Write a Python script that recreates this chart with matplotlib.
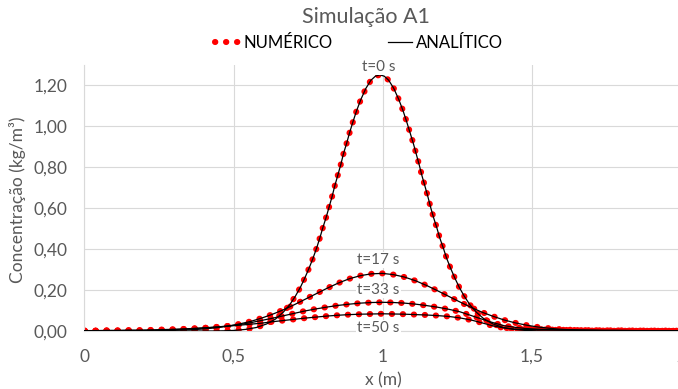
import matplotlib
matplotlib.use("Agg")
import matplotlib.pyplot as plt
from matplotlib.ticker import FuncFormatter, MultipleLocator

plt.rcParams["font.family"] = ["Lato", "DejaVu Sans"]

# grid used for t=17, 33 and 50 s
X = [0.000, 0.037, 0.074, 0.111, 0.148, 0.185, 0.222, 0.259, 0.296, 0.333,
     0.370, 0.407, 0.444, 0.481, 0.518, 0.555, 0.592, 0.629, 0.666, 0.703,
     0.740, 0.777, 0.814, 0.851, 0.888, 0.925, 0.962, 0.999, 1.036, 1.073,
     1.110, 1.147, 1.184, 1.221, 1.258, 1.295, 1.332, 1.369, 1.406, 1.443,
     1.480, 1.517, 1.554, 1.591, 1.628, 1.665, 1.702, 1.739, 1.776, 1.813,
     1.850, 1.887, 1.924, 1.961, 1.998]

T17_Y = [0.001, 0.001, 0.001, 0.001, 0.001, 0.001, 0.001, 0.002, 0.003, 0.005,
         0.007, 0.011, 0.016, 0.024, 0.034, 0.046, 0.062, 0.081, 0.103, 0.128,
         0.155, 0.182, 0.209, 0.234, 0.255, 0.270, 0.279, 0.281, 0.275, 0.263,
         0.245, 0.222, 0.196, 0.169, 0.142, 0.116, 0.092, 0.072, 0.054, 0.040,
         0.029, 0.020, 0.014, 0.009, 0.006, 0.004, 0.002, 0.002, 0.001, 0.001,
         0.001, 0.001, 0.001, 0.001, 0.001]

T33_Y = [0.001, 0.001, 0.002, 0.002, 0.003, 0.003, 0.004, 0.005, 0.007, 0.009,
         0.012, 0.015, 0.019, 0.024, 0.031, 0.040, 0.051, 0.062, 0.074, 0.086,
         0.098, 0.108, 0.117, 0.125, 0.131, 0.136, 0.139, 0.140, 0.139, 0.136,
         0.131, 0.124, 0.116, 0.106, 0.094, 0.076, 0.058, 0.041, 0.026, 0.018,
         0.012, 0.009, 0.007, 0.006, 0.005, 0.004, 0.004, 0.003, 0.003, 0.002,
         0.002, 0.002, 0.001, 0.001, 0.001]

T50_Y = [0.002, 0.002, 0.003, 0.003, 0.004, 0.004, 0.005, 0.007, 0.008, 0.010,
         0.013, 0.016, 0.020, 0.024, 0.028, 0.033, 0.038, 0.045, 0.051, 0.057,
         0.063, 0.068, 0.073, 0.077, 0.080, 0.082, 0.083, 0.084, 0.083, 0.082,
         0.080, 0.078, 0.075, 0.071, 0.064, 0.054, 0.040, 0.025, 0.015, 0.009,
         0.007, 0.007, 0.006, 0.005, 0.005, 0.004, 0.004, 0.003, 0.003, 0.003,
         0.002, 0.002, 0.002, 0.002, 0.001]

# t=0 s has a finer grid on the steep flanks
T0_X = [0.000, 0.023, 0.060, 0.097, 0.134, 0.171, 0.208, 0.245, 0.282, 0.319,
        0.356, 0.393, 0.430, 0.467, 0.504, 0.541, 0.576, 0.610, 0.640, 0.666,
        0.688, 0.707, 0.724, 0.739, 0.753, 0.766, 0.778, 0.789, 0.799, 0.810,
        0.820, 0.830, 0.839, 0.849, 0.859, 0.868, 0.879, 0.889, 0.900, 0.912,
        0.926, 0.943, 0.960, 0.975, 0.990, 1.005, 1.020, 1.037, 1.054, 1.068,
        1.080, 1.091, 1.102, 1.112, 1.122, 1.131, 1.141, 1.151, 1.160, 1.170,
        1.181, 1.191, 1.203, 1.214, 1.227, 1.241, 1.256, 1.273, 1.292, 1.314,
        1.340, 1.370, 1.404, 1.439, 1.476, 1.513, 1.550, 1.587, 1.624, 1.661,
        1.698, 1.735, 1.772, 1.809, 1.846, 1.883, 1.920, 1.957, 2.000]

T0_Y = [0.000, 0.000, 0.000, 0.000, 0.000, 0.000, 0.000, 0.000, 0.000, 0.000,
        0.000, 0.000, 0.000, 0.001, 0.003, 0.008, 0.017, 0.034, 0.058, 0.091,
        0.128, 0.170, 0.214, 0.260, 0.307, 0.355, 0.404, 0.454, 0.504, 0.554,
        0.605, 0.656, 0.708, 0.759, 0.811, 0.864, 0.917, 0.969, 1.021, 1.074,
        1.128, 1.183, 1.223, 1.243, 1.250, 1.243, 1.223, 1.183, 1.128, 1.074,
        1.021, 0.969, 0.917, 0.864, 0.811, 0.759, 0.708, 0.656, 0.605, 0.554,
        0.504, 0.454, 0.404, 0.355, 0.307, 0.260, 0.214, 0.170, 0.128, 0.091,
        0.058, 0.034, 0.017, 0.008, 0.003, 0.001, 0.000, 0.000, 0.000, 0.000,
        0.000, 0.000, 0.000, 0.000, 0.000, 0.000, 0.000, 0.000, 0.000]

labels = ["t=0 s", "t=17 s", "t=33 s", "t=50 s"]
label_y = [1.288, 0.346, 0.200, 0.015]

grey = "#595959"
grid = "#d9d9d9"

fig = plt.figure(figsize=(6.78, 3.89), dpi=100)
ax = fig.add_axes([0.1246, 0.1491, 0.880, 0.685])

curves = [(T0_X, T0_Y), (X, T17_Y), (X, T33_Y), (X, T50_Y)]

# numerical: round red dots, analytical: thin black line on top
for i, (xs, ys) in enumerate(curves):
    ax.plot(xs, ys, color="red", lw=4.4, linestyle=(0, (0.05, 1.75)),
            dash_capstyle="round", zorder=2,
            label="NUMÉRICO" if i == 0 else None)
for i, (xs, ys) in enumerate(curves):
    ax.plot(xs, ys, color="black", lw=0.9, zorder=3,
            label="ANALÍTICO" if i == 0 else None)

for lab, yy in zip(labels, label_y):
    ax.text(0.985, yy, lab, ha="center", va="center", color=grey,
            fontsize=11, zorder=4,
            bbox=dict(facecolor="white", edgecolor="none", pad=1))

ax.set_xlim(0, 2)
ax.set_ylim(0, 1.3)
ax.xaxis.set_major_locator(MultipleLocator(0.5))
ax.set_yticks([0, 0.2, 0.4, 0.6, 0.8, 1.0, 1.2])
ax.xaxis.set_major_formatter(FuncFormatter(lambda v, p: f"{v:g}".replace(".", ",")))
ax.yaxis.set_major_formatter(FuncFormatter(lambda v, p: f"{v:.2f}".replace(".", ",")))
ax.tick_params(length=0, labelcolor=grey, labelsize=12.5)
ax.tick_params(axis="y", pad=12)
ax.tick_params(axis="x", pad=13)

ax.grid(color=grid, lw=0.8, zorder=0)
ax.set_axisbelow(True)
for side in ["top", "right"]:
    ax.spines[side].set_visible(False)
for side in ["left", "bottom"]:
    ax.spines[side].set_color(grid)
    ax.spines[side].set_linewidth(0.8)

fig.text(18 / 678, 1 - 200 / 389, "Concentração (kg/m³)", rotation=90,
         ha="center", va="center", color=grey, fontsize=12.5)
fig.text(383 / 678, 1 - 380 / 389, "x (m)", ha="center", va="center",
         color=grey, fontsize=12.5)
fig.text(366 / 678, 1 - 17 / 389, "Simulação A1", ha="center", va="center",
         color=grey, fontsize=15.5)

h, l = ax.get_legend_handles_labels()
fig.legend(h, l, loc="center", bbox_to_anchor=(359 / 678, 1 - 43 / 389),
           ncol=2, frameon=False, fontsize=12, handlelength=1.45,
           handletextpad=0.25, columnspacing=3.3, labelcolor="black")

fig.savefig("out.png", dpi=100)
